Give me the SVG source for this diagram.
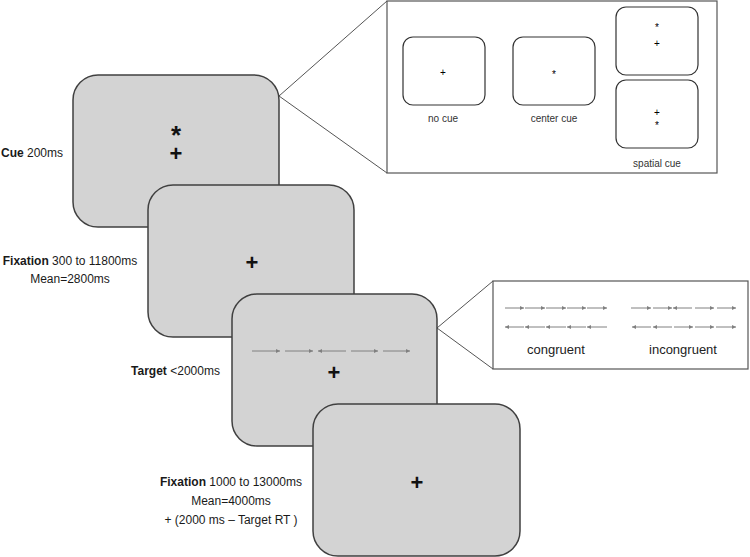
<svg xmlns="http://www.w3.org/2000/svg" width="750" height="557" viewBox="0 0 750 557">
<defs>
<style>
.screen{fill:#d3d3d3;stroke:#404040;stroke-width:1.5}
.box{fill:#fff;stroke:#555;stroke-width:1.2}
.mini{fill:#fff;stroke:#333;stroke-width:1.2}
.conn{fill:none;stroke:#555;stroke-width:1}
.lbl{font-family:"Liberation Sans",Arial,sans-serif;font-size:12px;fill:#1a1a1a;text-anchor:middle}
.sym{font-family:"Liberation Sans",Arial,sans-serif;font-size:22px;font-weight:bold;fill:#111;text-anchor:middle}
.ast{font-size:26px}
.small{font-family:"Liberation Sans",Arial,sans-serif;font-size:10px;fill:#000;text-anchor:middle}
.cap{font-family:"Liberation Sans",Arial,sans-serif;font-size:10px;fill:#333;text-anchor:middle}
.cap2{font-family:"Liberation Sans",Arial,sans-serif;font-size:13px;fill:#222;text-anchor:middle}
.arr{stroke:#808080;stroke-width:1;fill:none;marker-end:url(#ah)}
</style>
<marker id="ah" viewBox="0 0 6 6" refX="6" refY="3" markerWidth="5" markerHeight="4" markerUnits="userSpaceOnUse" orient="auto">
<path d="M0,0 L6,3 L0,6 z" fill="#808080"/>
</marker>
</defs>

<g id="connectors">
<polyline class="conn" points="387,1 279,96 387,173"/>
<polyline class="conn" points="493,281 437,328 493,369"/>
</g>

<g id="cue-screen">
<rect class="screen" x="73" y="75" width="206" height="152" rx="25"/>
<text class="sym"><tspan class="ast" x="176" y="144">*</tspan><tspan x="176" y="161">+</tspan></text>
<text class="lbl" x="32" y="157"><tspan font-weight="bold">Cue</tspan> 200ms</text>
</g>

<g id="fixation-screen">
<rect class="screen" x="148" y="185" width="206" height="152" rx="25"/>
<text class="sym" x="252" y="270">+</text>
<text class="lbl" x="70" y="265"><tspan font-weight="bold">Fixation</tspan> 300 to 11800ms</text>
<text class="lbl" x="70" y="283">Mean=2800ms</text>
</g>

<g id="target-screen">
<rect class="screen" x="232" y="294" width="205" height="152" rx="25"/>
<line class="arr" x1="252" y1="351" x2="280" y2="351"/>
<line class="arr" x1="285" y1="351" x2="313" y2="351"/>
<line class="arr" x1="346" y1="351" x2="318" y2="351"/>
<line class="arr" x1="351" y1="351" x2="378" y2="351"/>
<line class="arr" x1="383" y1="351" x2="410" y2="351"/>
<text class="sym" x="334" y="380">+</text>
<text class="lbl" x="175.5" y="375"><tspan font-weight="bold">Target</tspan> &lt;2000ms</text>
</g>

<g id="fixation2-screen">
<rect class="screen" x="313" y="404" width="207" height="152" rx="25"/>
<text class="sym" x="417" y="490">+</text>
<text class="lbl" x="231" y="486"><tspan font-weight="bold">Fixation</tspan> 1000 to 13000ms</text>
<text class="lbl" x="231" y="505">Mean=4000ms</text>
<text class="lbl" x="231" y="524">+ (2000 ms – Target RT )</text>
</g>

<g id="cue-callout">
<rect class="box" x="387" y="1" width="330" height="172"/>
<rect class="mini" x="403" y="37" width="82" height="68" rx="10"/>
<text class="small" x="443" y="75.5">+</text>
<text class="cap" x="443" y="122">no cue</text>
<rect class="mini" x="513" y="37" width="82" height="68" rx="10"/>
<text class="small" x="554" y="78">*</text>
<text class="cap" x="554" y="122">center cue</text>
<rect class="mini" x="616" y="7" width="82" height="68" rx="10"/>
<text class="small" x="657" y="31">*</text>
<text class="small" x="657" y="46.5">+</text>
<rect class="mini" x="616" y="80" width="82" height="68" rx="10"/>
<text class="small" x="657" y="115.5">+</text>
<text class="small" x="657" y="129">*</text>
<text class="cap" x="657" y="167">spatial cue</text>
</g>

<g id="flanker-callout">
<rect class="box" x="493" y="281" width="255" height="88"/>
<line class="arr" x1="505" y1="308" x2="524" y2="308"/>
<line class="arr" x1="525" y1="308" x2="545" y2="308"/>
<line class="arr" x1="546" y1="308" x2="566" y2="308"/>
<line class="arr" x1="567" y1="308" x2="586" y2="308"/>
<line class="arr" x1="587" y1="308" x2="607" y2="308"/>
<line class="arr" x1="524" y1="327" x2="505" y2="327"/>
<line class="arr" x1="545" y1="327" x2="525" y2="327"/>
<line class="arr" x1="566" y1="327" x2="546" y2="327"/>
<line class="arr" x1="586" y1="327" x2="567" y2="327"/>
<line class="arr" x1="607" y1="327" x2="587" y2="327"/>
<line class="arr" x1="631" y1="308" x2="651" y2="308"/>
<line class="arr" x1="653" y1="308" x2="672" y2="308"/>
<line class="arr" x1="692" y1="308" x2="673" y2="308"/>
<line class="arr" x1="695" y1="308" x2="714" y2="308"/>
<line class="arr" x1="717" y1="308" x2="736" y2="308"/>
<line class="arr" x1="651" y1="327" x2="632" y2="327"/>
<line class="arr" x1="672" y1="327" x2="653" y2="327"/>
<line class="arr" x1="674" y1="327" x2="693" y2="327"/>
<line class="arr" x1="695" y1="327" x2="714" y2="327"/>
<line class="arr" x1="716" y1="327" x2="736" y2="327"/>
<text class="cap2" x="556" y="354">congruent</text>
<text class="cap2" x="683" y="354">incongruent</text>
</g>
</svg>
